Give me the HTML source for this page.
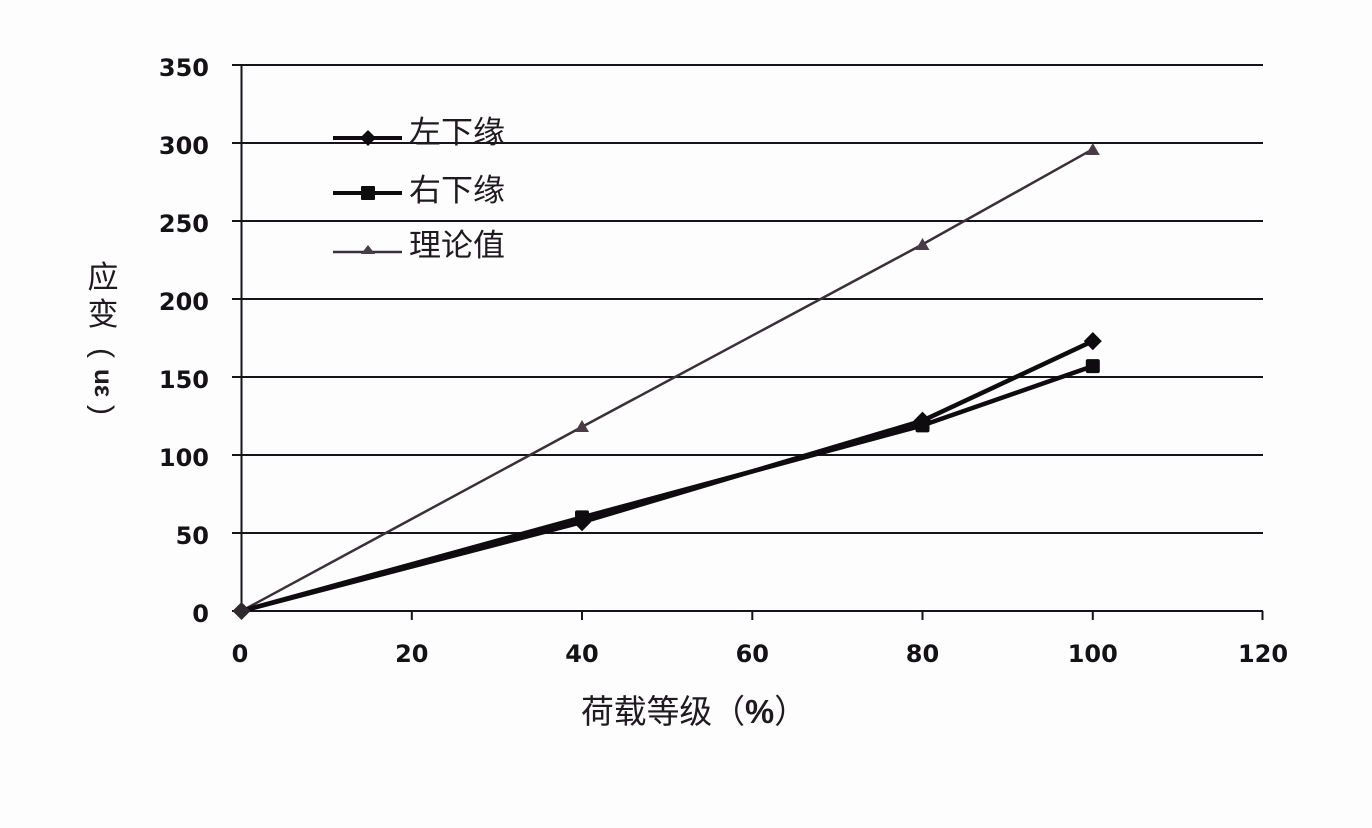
<!DOCTYPE html>
<html>
<head>
<meta charset="utf-8">
<style>
html,body{margin:0;padding:0;background:#fdfdfd;}
#wrap{position:relative;width:1372px;height:828px;overflow:hidden;background:#fdfdfd;}
svg{position:absolute;left:0;top:0;}
</style>
</head>
<body>
<div id="wrap">
<svg width="1372" height="828" viewBox="0 0 1372 828" xmlns="http://www.w3.org/2000/svg">
  <!-- gridlines -->
  <g stroke="#161418" stroke-width="2">
    <line x1="232" y1="65" x2="1263" y2="65"/>
    <line x1="232" y1="143" x2="1263" y2="143"/>
    <line x1="232" y1="221" x2="1263" y2="221"/>
    <line x1="232" y1="299" x2="1263" y2="299"/>
    <line x1="232" y1="377" x2="1263" y2="377"/>
    <line x1="232" y1="455" x2="1263" y2="455"/>
    <line x1="232" y1="533" x2="1263" y2="533"/>
    <line x1="232" y1="611" x2="1263" y2="611"/>
    <line x1="241.5" y1="65" x2="241.5" y2="611"/>
    <!-- x ticks -->
    <line x1="411.8" y1="611" x2="411.8" y2="620"/>
    <line x1="582" y1="611" x2="582" y2="620"/>
    <line x1="752.3" y1="611" x2="752.3" y2="620"/>
    <line x1="922.5" y1="611" x2="922.5" y2="620"/>
    <line x1="1092.8" y1="611" x2="1092.8" y2="620"/>
    <line x1="1262.5" y1="611" x2="1262.5" y2="620"/>
  </g>
  <!-- y tick labels -->
  <g font-family="DejaVu Sans, sans-serif" font-weight="bold" font-size="24" fill="#141216" text-anchor="end">
    <text x="209" y="76">350</text>
    <text x="209" y="154">300</text>
    <text x="209" y="232">250</text>
    <text x="209" y="310">200</text>
    <text x="209" y="388">150</text>
    <text x="209" y="466">100</text>
    <text x="209" y="544">50</text>
    <text x="209" y="622">0</text>
  </g>
  <!-- x tick labels -->
  <g font-family="DejaVu Sans, sans-serif" font-weight="bold" font-size="24" fill="#141216" text-anchor="middle">
    <text x="240" y="662">0</text>
    <text x="411.8" y="662">20</text>
    <text x="582" y="662">40</text>
    <text x="752.3" y="662">60</text>
    <text x="922.5" y="662">80</text>
    <text x="1092.8" y="662">100</text>
    <text x="1263" y="662">120</text>
  </g>
  <!-- x axis title -->
  <text x="581" y="723" font-family="Liberation Sans, Noto Sans CJK SC, sans-serif" font-size="33" fill="#1e1a20" textLength="226" lengthAdjust="spacingAndGlyphs">荷载等级（<tspan font-weight="bold">%</tspan>）</text>

  <!-- y axis title (vertical) -->
  <g font-family="Liberation Sans, Noto Sans CJK SC, sans-serif" font-size="31" fill="#1e1a20" text-anchor="middle">
    <text x="103" y="288">应</text>
    <text x="103" y="325">变</text>
    <text transform="translate(103,353) rotate(90)" y="10" font-size="30">(</text>
    <text transform="translate(103,383) rotate(90)" y="8" font-size="26" font-weight="bold">uε</text>
    <text transform="translate(103,410) rotate(90)" y="10" font-size="30">)</text>
  </g>

  <!-- theory line -->
  <polyline points="241.5,611 582,426.9 922.5,244.4 1092.8,149.2" fill="none" stroke="#3a3038" stroke-width="2.5"/>
  <g fill="#4a3c46">
    <polygon points="582,420 589,432 575,432"/>
    <polygon points="922.5,238 929.5,250 915.5,250"/>
    <polygon points="1092.8,143 1099.8,155 1085.8,155"/>
  </g>

  <!-- right lower (square) -->
  <polyline points="241.5,611 582,517.4 922.5,425.4 1092.8,366.1" fill="none" stroke="#0e0c0e" stroke-width="4.5" stroke-linejoin="round"/>
  <g fill="#0e0c0e">
    <rect x="575" y="510.4" width="14" height="14" rx="2"/>
    <rect x="915.5" y="418.4" width="14" height="14" rx="2"/>
    <rect x="1085.8" y="359.1" width="14" height="14" rx="2"/>
  </g>
  <!-- left lower (diamond) -->
  <polyline points="241.5,611 582,522.1 922.5,420.7 1092.8,341.1" fill="none" stroke="#0e0c0e" stroke-width="4.5" stroke-linejoin="round"/>
  <g fill="#0e0c0e">
    <polygon points="582,513 591,522.1 582,531.2 573,522.1"/>
    <polygon points="922.5,411.6 931.5,420.7 922.5,429.8 913.5,420.7"/>
    <polygon points="1092.8,332 1101.8,341.1 1092.8,350.2 1083.8,341.1"/>
  </g>
  <!-- origin marker -->
  <polygon points="241.5,602 250.5,611 241.5,620 232.5,611" fill="#2e2a2e"/>

  <!-- legend -->
  <line x1="333" y1="138" x2="402" y2="138" stroke="#0e0c0e" stroke-width="4"/>
  <polygon points="368,130 376,138 368,146 360,138" fill="#0e0c0e"/>
  <line x1="333" y1="193" x2="402" y2="193" stroke="#0e0c0e" stroke-width="4"/>
  <rect x="361" y="186" width="14" height="14" rx="1" fill="#0e0c0e"/>
  <line x1="333" y1="252" x2="402" y2="252" stroke="#3a3038" stroke-width="2.5"/>
  <polygon points="368,245 375,254 361,254" fill="#4a3c46"/>
  <g font-family="Liberation Sans, Noto Sans CJK SC, sans-serif" font-size="31" fill="#1e1a20">
    <text x="409" y="143" textLength="96" lengthAdjust="spacingAndGlyphs">左下缘</text>
    <text x="409" y="201" textLength="96" lengthAdjust="spacingAndGlyphs">右下缘</text>
    <text x="409" y="256" textLength="96" lengthAdjust="spacingAndGlyphs">理论值</text>
  </g>
</svg>
</div>
</body>
</html>
